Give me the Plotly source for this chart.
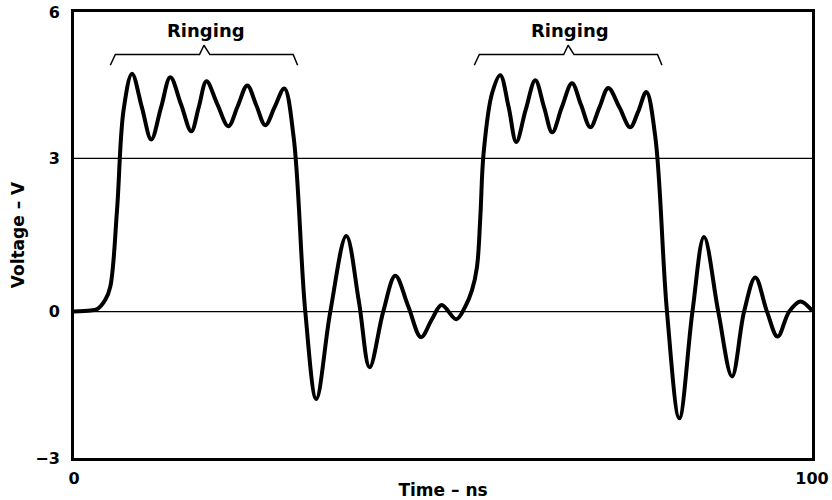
import plotly.graph_objects as go

# Waveform (time in ns, voltage in V)
time_ns = [0, 2.21, 3.16, 4.24, 4.92, 5.83, 6.72, 7.86, 9.2, 10.47, 11.8, 13.05, 14.5, 15.89,
           16.9, 17.95, 19.4, 20.91, 22.2, 23.48, 24.7, 25.92, 27.2, 28.5, 29.76, 31.34,
           32.83, 34.73, 36.9, 38.6, 40.05, 41.9, 43.54, 45.3, 47.02, 48.5, 49.81, 51.8,
           53.02, 53.93, 54.61, 55.06, 55.5, 56.64, 57.76, 58.9, 59.93, 61.2, 62.51, 63.7,
           64.8, 66.1, 67.48, 68.7, 69.96, 71.2, 72.4, 73.9, 75.37, 76.4, 77.55, 78.77,
           80.35, 82.02, 83.8, 85.37, 87.3, 89.16, 90.8, 92.32, 93.9, 95.34, 96.9, 98.41,
           100]
voltage = [0, 0.02, 0.05, 0.23, 0.49, 1.99, 3.95, 4.66, 4.0, 3.37, 4.0, 4.59, 4.06, 3.53,
           4.0, 4.51, 4.07, 3.63, 4.03, 4.43, 4.04, 3.65, 4.01, 4.37, 3.42, 0,
           -1.71, 0, 1.48, 0.2, -1.09, 0, 0.70, 0.1, -0.50, -0.15, 0.13, -0.15,
           0.10, 0.42, 0.88, 1.86, 3.10, 4.27, 4.63, 4.0, 3.32, 3.95, 4.53, 4.0,
           3.51, 4.0, 4.47, 4.05, 3.61, 4.0, 4.38, 4.0, 3.61, 3.9, 4.30, 3.42,
           0, -2.09, 0, 1.46, 0, -1.27, 0, 0.67, 0, -0.49, 0, 0.20,
           0.02]

# Ringing brackets (start, end in ns)
ringing_spans = [(4.92, 30.3), (54.24, 79.67)]
ringing_label = "Ringing"

# Axes
x_range = [0, 100]
y_range = [-2.867, 5.867]
x_tickvals = [0, 100]
x_ticktext = ["0", "100"]
y_tickvals = [-2.867, 0, 3, 5.867]
y_ticktext = ["\u22123", "0", "3", "6"]
x_title = "Time \u2013 ns"
y_title = "Voltage \u2013 V"

FONT = "DejaVu Sans"

fig = go.Figure()

# gridlines at 0 and 3
for gy in [0, 3]:
    fig.add_trace(go.Scatter(x=x_range, y=[gy, gy], mode="lines",
                             line=dict(color="black", width=1.3),
                             hoverinfo="skip", showlegend=False))

fig.add_trace(go.Scatter(x=time_ns, y=voltage, mode="lines",
                         line=dict(color="black", width=4, shape="spline", smoothing=1),
                         showlegend=False))

# brackets
y_end, y_bar, y_peak = 4.825, 5.034, 5.216
for (s, e) in ringing_spans:
    mid = (s + e) / 2
    bx = [s, s + 0.68, mid - 0.6, mid, mid + 0.8, e - 0.6, e]
    by = [y_end, y_bar, y_bar, y_peak, y_bar, y_bar, y_end]
    fig.add_trace(go.Scatter(x=bx, y=by, mode="lines",
                             line=dict(color="black", width=1.5),
                             hoverinfo="skip", showlegend=False))
    fig.add_annotation(x=mid + 0.3, y=y_peak, text="<b>" + ringing_label + "</b>",
                       showarrow=False, yanchor="bottom", yshift=2,
                       font=dict(family=FONT, size=18, color="black"))

fig.update_layout(
    width=832, height=500,
    margin=dict(l=74, r=20, t=12, b=42),
    paper_bgcolor="white", plot_bgcolor="white",
    font=dict(family=FONT, size=16, color="black"),
)
fig.update_xaxes(range=x_range, tickvals=x_tickvals, ticktext=["<b>%s</b>" % t for t in x_ticktext],
                 showgrid=False, zeroline=False, showline=True, mirror=True, automargin=False,
                 linecolor="black", linewidth=3, ticks="", ticklabelstandoff=4,
                 title=dict(text="<b>" + x_title + "</b>", standoff=1,
                            font=dict(family=FONT, size=17)))
fig.update_yaxes(range=y_range, tickvals=y_tickvals, ticktext=["<b>%s</b>" % t for t in y_ticktext],
                 showgrid=False, zeroline=False, showline=True, mirror=True, automargin=False,
                 linecolor="black", linewidth=3, ticks="", ticklabelstandoff=8,
                 title=dict(text="<b>" + y_title + "</b>", standoff=7,
                            font=dict(family=FONT, size=17)))

fig.write_html("out.html", config={"displayModeBar": False},
               post_script="document.body.style.margin='0px';document.body.style.overflow='hidden';")
